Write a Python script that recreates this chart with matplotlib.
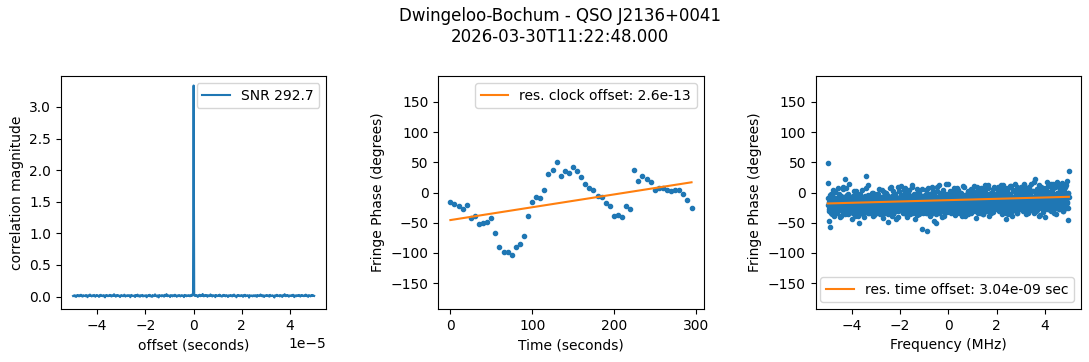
import numpy as np
import matplotlib
matplotlib.use("Agg")
import matplotlib.pyplot as plt

TITLE = "Dwingeloo-Bochum - QSO J2136+0041\n2026-03-30T11:22:48.000"

# correlation magnitude vs lag (values in units of 1e-3)
corr_before_milli = [
    9, 15, 3, 20, 11, -7, 17, 6, 24, 13, 2, 19, 10, 28, 5, 14, -2, 21, 12, 8,
    16, 4, 23, 10, -11, 18, 7, 15, 31, 9, 13, 1, 20, 11, 6, 25, 14, -4, 17, 10,
    22, 8, 12, -6, 19, 5, 27, 13, 9, 16, 3, 21, 11, -14, 18, 7, 24, 12, 4, 15,
    10, 26, 6, 17, 0, 20, 13, 8, 36, 11, 15, -3, 19, 9, 23, 5, 14, 12, -9, 18,
    7, 21, 13, 4, 16, 29, 10, -1, 18, 12, 6, 22, 15, 9, 19, -12, 14, 25, 8, 11,
    12, 5, 18, -8, 22, 9, 14, 30, 3, 11, 16, -4, 20, 7, 13, 25, 1, 10, 17, 6,
    8, 21, -12, 14, 4, 19, 11, 27, 2, 15, 9, -6, 23, 12, 5, 16, 34, 8, 13, 0,
    18, 10, -15, 24, 6, 12, 17, 3, 20, 9, 14, -3, 26, 11, 7, 38, 15, 4, 19, 10,
    13, -9, 22, 8, 16, 2, 21, 12, 5, 28, 9, 15, -5, 18, 11, 6, 24, 14, 1, 17,
    10, 20, 7, 13, -10, 25, 9, 16, 4, 19, 12, 8, 22, 15, 3, 18, 11, 30, 14, 20,
]
corr_peak_milli = 3340
corr_after_milli = [
    35, 9, 15, 6, 23, 12, -7, 17, 10, 28, 4, 14, 20, 8, 40, 13, 2, 18, 11, 25,
    7, 16, -4, 21, 12, 5, 19, 33, 9, 14, 0, 22, 15, 8, 17, -11, 24, 10, 13, 6,
    20, 11, 29, 4, 16, 9, -2, 18, 12, 26, 7, 15, 3, 21, 10, 14, -8, 19, 13, 5,
    23, 9, 16, 1, 20, 12, 31, 6, 15, 10, -13, 18, 8, 24, 11, 17, 4, 13, 22, 7,
    16, -5, 19, 10, 27, 3, 14, 12, 20, 8, 15, -18, 21, 11, 6, 17, 13, 2, 18, 9,
    17, 3, 20, 12, -5, 24, 9, 14, 6, 19, 32, 10, 15, 2, 21, 11, -8, 17, 13, 7,
    23, 10, 16, 4, 18, -2, 26, 12, 8, 14, 20, 5, 11, -16, 19, 13, 9, 27, 6, 15,
    12, 18, 1, 22, 10, 14, -7, 20, 8, 16, 37, 11, 4, 19, 13, 24, 7, -3, 17, 10,
    15, 6, 21, 12, 28, 9, -10, 18, 14, 3, 20, 11, 16, 7, 25, 13, -1, 19, 10, 22,
    8, 14, 4, 17, 11, 30, 6, 19, 13, -6, 21, 9, 15, 2, 18, 12, 24, 7, 16, 10,
]
max_lag = 5e-5
snr = 292.7

# fringe phase vs time, one point every 5 s
time_step = 5
time_phase = [
    -16, -19, -22, -28, -20, -42, -38, -52, -50, -48,
    -42, -67, -90, -98, -98, -103, -90, -85, -72, -38,
    -15, -8, -9, 5, 30, 37, 50, 27, 35, 33,
    42, 35, 25, 15, 8, 5, -5, -8, -18, -22,
    -38, -37, -40, -22, -27, 38, 20, 27, 22, 18,
    5, 8, 7, 5, 3, 5, 5, -2, -13, -25,
]
clock_fit = (-45.5, 0.212)  # intercept (deg), slope (deg/s)
clock_offset = "2.6e-13"

# fringe phase per frequency channel (even and odd channels)
freq_phase_even = [
    16, 49, -28, -47, -57, -31, -2, -22, -35, -10, -18, 5, -26, -38, -14, -20, 3, -30, -9, -24,
    -33, -16, 8, -27, -12, -40, -19, -6, -29, -15, -22, 10, -34, -11, -25, 22, -17, 7, -30, -21,
    -4, -36, -13, -26, 15, -19, -32, -8, -23, -14,
    -20, -7, -33, -15, -26, 2, -38, -18, -11, -29, -22, -3, -35, -16, -50, -24, -9, -31, -14, -27,
    -19, 4, -36, -12, -25, -17, -41, -6, -21, -30, 28, -13, -28, 12, -20, -34, -10, -23, -16, -5,
    -32, -18, -26, -1, -39, -14, -22, -8, -30, -17,
    -12, -27, -3, -33, -18, -9, -24, 6, -36, -15, -21, -30, -7, -19, -42, -13, -26, 1, -31, -16,
    -10, -28, -22, -4, -35, -48, -17, -25, -8, -14, 9, -29, -20, -38, -11, -23, 3, -32, -15, -6,
    -27, -19, -43, -12, -24, 10, -30, -16, -9, -21,
    -18, 11, -29, -7, -22, -13, -34, -2, -25, -16, 8, -31, -11, -20, -40, -5, -27, -14, -23, 4,
    -36, -9, -18, -28, -12, 12, -33, -17, -4, -24, -15, -44, -8, -21, -30, 6, -13, -26, -19, -1,
    -35, -10, -22, -27, -14, -61, -6, -31, -17, -24,
    -20, -9, -28, 5, -15, -63, -33, -11, -24, -3, -18, -38, -7, -26, -14, 9, -30, -19, -1, -22,
    -47, -12, -29, -8, -35, -50, -16, 2, -25, -13, -21, 12, -31, -6, -17, -27, -10, -40, 0, -23,
    -15, -32, -4, -19, -11, 15, -28, -14, -20, -7,
    14, -18, -6, -26, -13, -33, -2, -21, -10, -29, -15, 4, -24, -37, -8, -19, -12, -30, 7, -16,
    -23, -5, -34, -11, -20, -27, 0, -14, -39, -9, -22, -17, 10, -31, -4, -25, -13, -19, -28, -7,
    -36, 3, -16, -21, -11, -26, -1, -33, -15, -9,
    -17, -3, -25, 11, -13, -30, -8, -20, -42, -14, 2, -27, -10, -19, -5, -33, -16, 8, -23, -12,
    -28, -1, -36, -9, -21, -15, 5, -31, -7, -18, -24, 12, -13, -29, -4, -38, -11, -20, 0, -26,
    -16, -8, -32, 6, -14, -22, -2, -27, -10, -19,
    -6, -24, 10, -15, -31, -2, -19, -11, -27, 4, -36, -8, -20, -14, 13, -29, -5, -22, -12, -34,
    -43, -1, -17, -26, 7, -10, -30, -15, -3, -23, 11, -13, -38, -7, -20, -16, 2, -28, -9, -25,
    -4, -18, 9, -33, -12, -21, -6, -14, 0, -27,
    -11, 5, -22, -4, -30, -13, 12, -19, -8, -26, 1, -35, -15, -6, -23, 8, -12, -31, -2, -18,
    -10, 14, -27, -7, -20, -14, 3, -33, -9, -24, 23, -5, -17, -29, 6, -12, -21, -3, -38, -8,
    -16, 10, -25, -11, -1, -19, -32, 4, -13, -40,
    -6, -20, 7, -12, 18, -27, -3, -15, -9, 11, -23, -1, -31, -8, -17, 4, -11, 15, -25, -5,
    -14, 9, -19, -36, 0, -10, -22, 13, -7, -28, -2, -16, 6, -12, -24, 16, -4, -30, -9, 2,
    -18, -13, 10, -26, -6, 19, -15, -1, -45, 35,
]
freq_phase_odd = [
    -21, -9, -30, -15, -25, -4, -34, -18, -12, -27, -20, -7, -37, -16, -23, 1, -29, -13, -19, -32,
    -10, -24, -17, -3, -28, -21, -14, -39, -8, -26, -18, 6, -31, -12, -22, -16, -35, -5, -20, -27,
    -11, -24, -2, -33, -19, -14, -29, -9, -22, -43,
    -15, -28, -6, -20, -33, -11, -24, -17, 3, -30, -13, -22, -38, -9, -19, -26, -14, -2, -31, -18,
    -23, -10, -35, -16, -7, -27, -20, -12, 8, -29, -15, -24, -4, -34, -18, -11, -26, -21, -8, -32,
    -14, -1, -28, -19, -25, -12, -37, -6, -22, -16,
    -19, -8, -27, -13, -3, -32, -17, -22, -10, -29, -15, 4, -24, -36, -12, -20, -6, -28, -16, -25,
    -11, -1, -33, -18, -9, -23, -14, -30, 7, -21, -13, -27, -5, -19, -35, -11, -24, -16, -2, -31,
    -20, -8, -26, -15, -40, -10, -22, -17, 2, -28,
    -12, -25, -4, -19, -31, -9, -16, -22, 5, -28, -14, -35, -7, -20, -11, -26, -1, -17, -30, -13,
    -23, -6, -33, -15, 9, -21, -10, -27, -18, -3, -32, -12, -24, -8, -19, -37, -14, 1, -26, -16,
    -22, -5, -29, -11, -18, 6, -34, -13, -20, -9,
    -17, -4, -26, -12, -33, -8, -20, 7, -15, -29, -11, -23, -2, -36, -14, -19, -9, -27, 3, -16,
    -24, -6, -31, -13, -21, -10, 10, -28, -18, -5, -34, -12, -22, -15, -1, -30, -8, -25, -17, 4,
    -39, -11, -20, -14, -27, -3, -19, -32, -7, -23,
    -9, -22, -15, 2, -30, -12, -19, -6, -27, -14, 8, -24, -10, -35, -17, -3, -21, -13, -29, 5,
    -16, -8, -25, -19, -1, -33, -11, -20, -14, 11, -28, -7, -23, -17, -38, -4, -15, -26, -10, 1,
    -31, -18, -12, -22, -6, -27, 6, -14, -20, -9,
    -14, 3, -23, -9, -29, -16, -5, -20, 9, -26, -12, -33, -7, -18, -1, -24, -13, -30, 4, -17,
    -10, -22, -36, -6, -15, 12, -27, -11, -19, -3, -31, -14, 7, -21, -8, -25, -16, 0, -34, -12,
    -20, -4, -28, -10, 10, -18, -23, -7, -15, -26,
    -8, -21, 5, -14, -27, -3, -18, -11, 13, -24, -9, -32, -15, -1, -20, -12, 8, -29, -6, -17,
    -23, 2, -35, -10, -16, -4, -26, 11, -13, -19, -7, -30, -14, 4, -22, -9, -25, 15, -11, -18,
    -2, -33, -12, 6, -20, -15, -28, -5, -17, 9,
    -12, -3, -19, 7, -26, -10, -15, 14, -22, -6, -30, -13, 1, -18, -9, -34, -4, 10, -21, -14,
    -7, -25, 3, -16, -11, -28, 17, -8, -20, -13, -2, -31, -10, 6, -17, -24, -5, 12, -14, -19,
    -37, -8, 2, -23, -12, 8, -27, -15, -6, -18,
    -9, 4, -16, -3, -24, 11, -12, -7, -20, 1, -29, -5, 14, -14, -10, -22, 7, -2, -18, -33,
    -8, 10, -13, -25, -4, 17, -11, -16, -1, -27, 5, -9, -21, 12, -6, -14, -30, 2, -10, -19,
    9, -4, -23, -12, 13, -7, -17, 0, -26, -8,
]
bandwidth_mhz = 10.0
delay_fit = (-12.5, 1.1)  # intercept (deg), slope (deg/MHz)
time_offset = "3.04e-09"


def main():
    fig, axes = plt.subplots(1, 3, figsize=(10.89, 3.62), dpi=100)
    fig.subplots_adjust(left=0.056, right=0.9926, bottom=0.146, top=0.79, wspace=0.4226)
    fig.suptitle(TITLE, x=0.514, y=0.98, fontsize=12)

    # correlation
    ax = axes[0]
    corr = np.array(corr_before_milli + [corr_peak_milli] + corr_after_milli) * 1e-3
    lags = np.linspace(-max_lag, max_lag, len(corr))
    ax.plot(lags, corr, label=f"SNR {snr}")
    ax.set_ylim(-0.2, 3.49)
    ax.set_xlabel("offset (seconds)")
    ax.set_ylabel("correlation magnitude")
    ax.legend(loc="upper right")

    # phase vs time
    ax = axes[1]
    t = np.arange(len(time_phase)) * time_step
    ax.plot(t, time_phase, ".")
    ax.plot(t, clock_fit[0] + clock_fit[1] * t, label=f"res. clock offset: {clock_offset}")
    ax.set_ylim(-193, 193)
    ax.set_xlabel("Time (seconds)")
    ax.set_ylabel("Fringe Phase (degrees)")
    ax.legend(loc="upper right")

    # phase vs frequency
    ax = axes[2]
    phase = np.empty(len(freq_phase_even) + len(freq_phase_odd))
    phase[0::2] = freq_phase_even
    phase[1::2] = freq_phase_odd
    f = np.linspace(-bandwidth_mhz / 2, bandwidth_mhz / 2, len(phase))
    ax.plot(f, phase, ".")
    ax.plot(f, delay_fit[0] + delay_fit[1] * f, label=f"res. time offset: {time_offset} sec")
    ax.set_ylim(-193, 193)
    ax.set_xlabel("Frequency (MHz)")
    ax.set_ylabel("Fringe Phase (degrees)")
    ax.legend(loc="lower right")

    fig.savefig("out.png", dpi=100)


if __name__ == "__main__":
    main()
